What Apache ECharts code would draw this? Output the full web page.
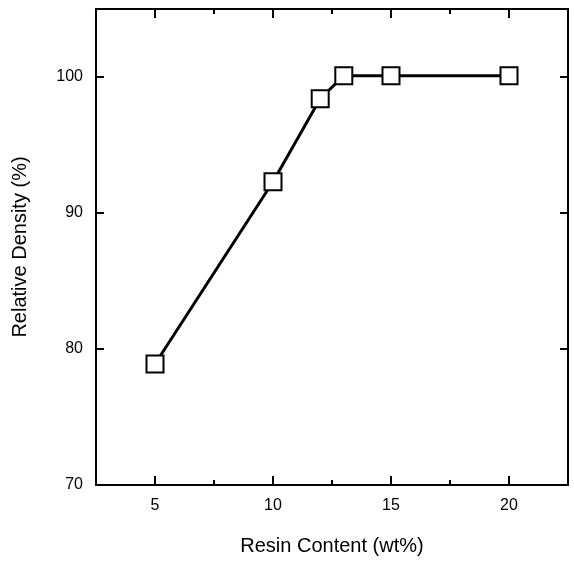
<!DOCTYPE html>
<html><head><meta charset="utf-8">
<script src="https://cdn.jsdelivr.net/npm/echarts@6/dist/echarts.min.js"></script>
<style>html,body{margin:0;padding:0;background:#fff}#c{width:574px;height:565px}</style>
</head><body><div id="c"></div>
<script>
const resinContent = [5, 10, 12, 13, 15, 20];
const relativeDensity = [78.9, 92.3, 98.4, 100.1, 100.1, 100.1];
const xTicks = [5, 10, 15, 20];
const yTicks = [70, 80, 90, 100];

const chart = echarts.init(document.getElementById('c'));
const font = 'Liberation Sans, Arial, sans-serif';
const blk = {color: '#000', width: 2};
function xAx(opts) {
  return Object.assign({
    type: 'value', min: 2.5, max: 22.5, interval: 2.5,
    axisLine: {show: true, lineStyle: blk},
    axisTick: {show: true, inside: true, length: 5, lineStyle: blk},
    axisLabel: {show: false},
    splitLine: {show: false}
  }, opts);
}
function yAx(opts) {
  return Object.assign({
    type: 'value', min: 70, max: 105, interval: 10,
    axisLine: {show: true, lineStyle: blk},
    axisTick: {show: true, inside: true, length: 8, lineStyle: blk, customValues: yTicks},
    axisLabel: {show: false},
    splitLine: {show: false}
  }, opts);
}
chart.setOption({
  animation: false,
  grid: {left: 96, right: 6, top: 9, bottom: 80, containLabel: false, outerBoundsMode: 'none'},
  xAxis: [
    xAx({
      name: 'Resin Content (wt%)', nameLocation: 'middle', nameGap: 51,
      nameTextStyle: {color: '#000', fontSize: 20, fontFamily: font},
      axisLabel: {show: true, color: '#000', fontSize: 16, fontFamily: font, margin: 13,
        customValues: xTicks}
    }),
    xAx({position: 'bottom', axisLine: {show: false},
      axisTick: {show: true, inside: true, length: 9, lineStyle: blk, customValues: xTicks}}),
    xAx({position: 'top'}),
    xAx({position: 'top', axisLine: {show: false},
      axisTick: {show: true, inside: true, length: 9, lineStyle: blk, customValues: xTicks}})
  ],
  yAxis: [
    yAx({
      name: 'Relative Density (%)', nameLocation: 'middle', nameGap: 66,
      nameTextStyle: {color: '#000', fontSize: 20, fontFamily: font},
      axisLabel: {show: true, color: '#000', fontSize: 16, fontFamily: font, margin: 13,
        customValues: yTicks}
    }),
    yAx({position: 'right'})
  ],
  series: [{
    type: 'line',
    data: resinContent.map((x, i) => [x, relativeDensity[i]]),
    symbol: 'rect', symbolSize: 17,
    itemStyle: {color: '#fff', borderColor: '#000', borderWidth: 2},
    lineStyle: {color: '#000', width: 3},
    z: 3
  }]
});
</script></body></html>
